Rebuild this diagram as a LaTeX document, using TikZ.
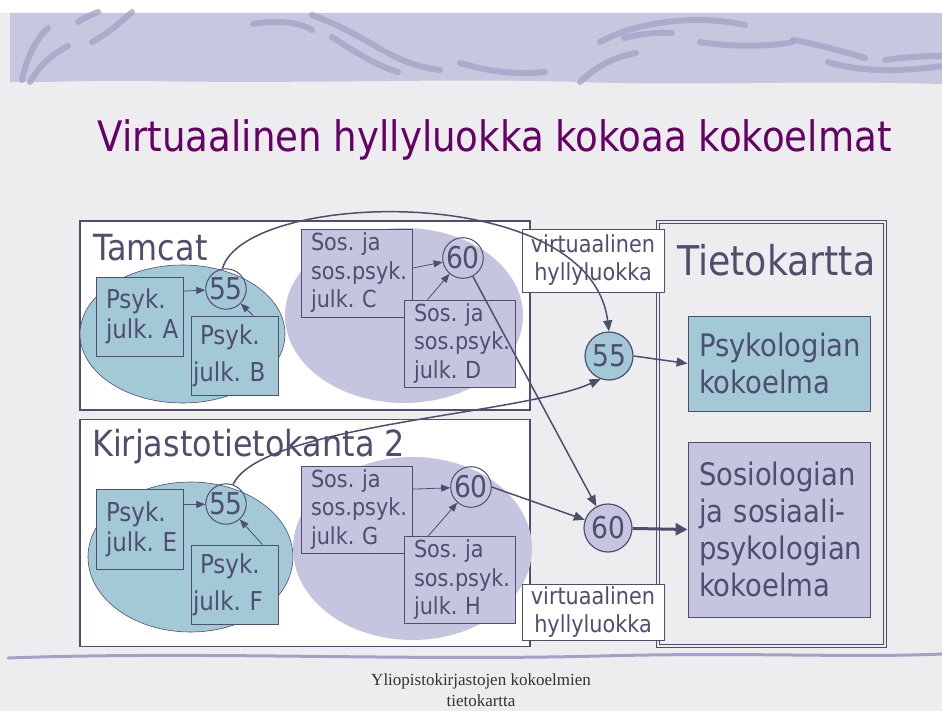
\documentclass[tikz,border=0pt]{standalone}
\usepackage{fontspec}
\setmainfont{DejaVu Sans}[FakeStretch=0.885]
\newfontfamily\footfont{Liberation Serif}
\usetikzlibrary{positioning,arrows.meta,shapes.geometric}
\definecolor{slate}{HTML}{4E4E6E}
\definecolor{plum}{HTML}{660066}
\definecolor{tealfill}{HTML}{A3C9D7}
\definecolor{lilac}{HTML}{C5C5DF}
\definecolor{banner}{HTML}{C7C7DF}
\definecolor{wave}{HTML}{A2A2C6}
\definecolor{paper}{HTML}{EDEDF0}
\definecolor{foot}{HTML}{333333}
\frenchspacing

\begin{document}
\begin{tikzpicture}[
    x=1pt, y=-1pt,
    frame/.style={draw=slate,line width=1.6pt,fill=white,minimum width=450pt,inner sep=0pt},
    blob/.style={ellipse,inner sep=0pt},
    psykbox/.style={draw=slate,line width=0.8pt,fill=tealfill,text=slate,font=\fontsize{26}{30}\selectfont,
      minimum height=79pt,inner xsep=10pt,text width=67pt,align=left},
    sosbox/.style={draw=slate,line width=0.8pt,fill=lilac,text=slate,font=\fontsize{23.5}{28.5}\selectfont,
      minimum height=88pt,inner xsep=10pt,text width=91pt,align=left},
    num/.style={circle,draw=slate,line width=1pt,text=slate,inner sep=0pt,minimum size=39pt,
      font=\fontsize{30}{30}\selectfont},
    bignum/.style={num,minimum size=48pt,line width=1.2pt},
    shelf/.style={draw=slate,line width=0.8pt,fill=white,text=slate,font=\fontsize{23.5}{28}\selectfont,
      minimum width=142pt,align=center,inner sep=2pt},
    coll/.style={draw=slate,line width=0.8pt,text=slate,font=\fontsize{31}{37}\selectfont,
      inner xsep=11pt,text width=160pt,align=left},
    swoosh/.style={draw=wave,line width=6pt,line cap=round,opacity=0.75},
    arr/.style={draw=slate,line width=0.8pt,-{Triangle[length=9pt,width=7pt]}},
    link/.style={draw=slate,line width=1.5pt,-{Triangle[length=11pt,width=9pt]}}]
  \useasboundingbox (0,0) rectangle (942,711);

  % slide background
  \fill[paper] (0,0) rectangle (942,711);
  \fill[white] (0,0) rectangle (942,13);
  \fill[banner] (10,13) -- (942,13) -- (942,84) .. controls (800,80) and (700,86) .. (580,82)
    .. controls (450,78) and (300,84) .. (150,81) .. controls (80,80) and (40,83) .. (10,82) -- cycle;
  \draw[swoosh] (22,80) .. controls (26,60) and (35,40) .. (48,28);
  \draw[swoosh] (30,82) .. controls (38,68) and (50,55) .. (68,46);
  \draw[swoosh] (92,42) .. controls (105,35) and (118,25) .. (132,12);
  \draw[swoosh] (78,22) .. controls (84,18) and (90,15) .. (98,12);
  \draw[swoosh] (253,24) .. controls (275,20) and (300,22) .. (312,30);
  \draw[swoosh] (312,15) .. controls (340,25) and (365,40) .. (382,50);
  \draw[swoosh] (332,37) .. controls (355,52) and (375,65) .. (398,72);
  \draw[swoosh] (386,52) .. controls (400,60) and (420,68) .. (440,70);
  \draw[swoosh] (460,63) .. controls (490,72) and (520,75) .. (545,72);
  \draw[swoosh] (580,82) .. controls (595,68) and (610,58) .. (636,53);
  \draw[swoosh] (600,42) .. controls (640,20) and (700,15) .. (745,25);
  \draw[swoosh] (624,38) .. controls (640,34) and (655,32) .. (672,33);
  \draw[swoosh] (700,42) .. controls (730,47) and (770,47) .. (793,42);
  \draw[swoosh] (793,40) .. controls (820,45) and (845,52) .. (865,58);
  \draw[swoosh] (828,62) .. controls (860,72) and (900,72) .. (942,66);
  \draw[swoosh] (885,60) .. controls (905,57) and (925,56) .. (942,56);
  \draw[wave,line width=3pt,line cap=round] (8,658) .. controls (200,651) and (400,661) .. (600,656)
    .. controls (750,652) and (850,658) .. (942,654);

  \node[anchor=base,font=\fontsize{42}{42}\selectfont,text=plum,inner sep=0pt] (title)
    at (494.5,152) {Virtuaalinen hyllyluokka kokoaa kokoelmat};

  % lahdetietokannat
  \node[frame,minimum height=189pt] (tamcat) at (305,315.5) {};
  \node[frame,minimum height=227pt,below=8pt of tamcat] (kirjasto) {};
  \node[anchor=base west,inner sep=0pt,text=slate,font=\fontsize{36}{36}\selectfont] (tamcatlbl)
    at (93,261) {Tamcat};
  \node[anchor=base west,inner sep=0pt,text=slate,font=\fontsize{36}{36}\selectfont] (kirjastolbl)
    at (92,456) {Kirjastotietokanta 2};

  \node[blob,fill=tealfill,draw=slate,line width=0.6pt,minimum width=205pt,minimum height=138pt] (psykA)
    at (182.5,334) {};
  \node[blob,fill=lilac,minimum width=238pt,minimum height=175pt] (sosA) at (404,315.5) {};
  \node[blob,fill=tealfill,draw=slate,line width=0.6pt,minimum width=205pt,minimum height=150pt] (psykB)
    at (190.5,557) {};
  \node[blob,fill=lilac,minimum width=239pt,minimum height=183pt] (sosB) at (412.5,548.5) {};

  \node[psykbox] (boxA) at (139.5,316.5) {Psyk.\\julk.~A};
  \node[psykbox,inner xsep=2pt,text width=83pt,font=\fontsize{26}{37}\selectfont] (boxB)
    at (234.5,355.5) {\hspace*{7pt}Psyk.\\julk.~B};
  \node[sosbox] (boxC) at (356.5,273) {Sos.~ja\\sos.psyk.\\julk.~C};
  \node[sosbox,minimum height=87pt] (boxD) at (459.5,343.5) {Sos.~ja\\sos.psyk.\\julk.~D};
  \node[num] (n55a) at (226,289) {55};
  \node[num] (n60a) at (463,258) {60};

  \node[psykbox,minimum height=80pt] (boxE) at (139.5,529) {Psyk.\\julk.~E};
  \node[psykbox,inner xsep=2pt,text width=83pt,font=\fontsize{26}{37}\selectfont] (boxF)
    at (234.5,584.5) {\hspace*{7pt}Psyk.\\julk.~F};
  \node[sosbox,minimum height=87pt] (boxG) at (356.5,509.5) {Sos.~ja\\sos.psyk.\\julk.~G};
  \node[sosbox,minimum height=86pt] (boxH) at (459.5,580) {Sos.~ja\\sos.psyk.\\julk.~H};
  \node[num] (n55b) at (226,504) {55};
  \node[num] (n60b) at (471,487) {60};

  \draw[arr] (boxA.30) -- (n55a);
  \draw[arr] (boxB.65) -- (n55a);
  \draw[arr] (boxC.5) -- (n60a);
  \draw[arr] (boxD.126) -- (n60a);
  \draw[arr] (boxE.29) -- (n55b);
  \draw[arr] (boxF.55) -- (n55b);
  \draw[arr] (boxG.20) -- (n60b);
  \draw[arr] (boxH.126) -- (n60b);

  % tietokartta
  \node[draw=slate,line width=0.8pt,double=paper,double distance=2pt,minimum width=227pt,
    minimum height=424pt] (kartta) at (771.5,434) {};
  \node[anchor=base west,inner sep=0pt,text=slate,font=\fontsize{41}{41}\selectfont] (kartalbl)
    at (677,276) {Tietokartta};
  \node[coll,fill=tealfill,minimum height=95pt] (psykcoll) at (779,363.5) {Psykologian\\kokoelma};
  \node[coll,fill=lilac,minimum height=175pt] (soscoll) at (779,529.5)
    {Sosiologian\\ja sosiaali-\\psykologian\\kokoelma};

  \node[shelf,minimum height=63pt] (shelfA) at (593,260.5) {virtuaalinen\\hyllyluokka};
  \node[shelf,minimum height=56pt] (shelfB) at (593,612) {virtuaalinen\\hyllyluokka};
  \node[bignum,fill=tealfill] (n55r) at (609,356) {55};
  \node[bignum,fill=lilac] (n60r) at (608,528) {60};

  \draw[link] (n55a.100) .. controls (245,190) and (590,180) .. (n55r.north);
  \draw[link] (n55b.70) .. controls (260,425) and (520,415) .. (n55r.250);
  \draw[link] (n60a) -- (n60r);
  \draw[link] (n60b.east) -- (n60r);
  \draw[link] (n55r.east) -- (psykcoll.west);
  \draw[draw=slate,line width=3pt,-{Triangle[length=12pt,width=12pt]}] (n60r) -- (soscoll.west);

  \node[font=\footfont\fontsize{17}{21}\selectfont,text=foot,align=center] (footer)
    at (481,690) {Yliopistokirjastojen kokoelmien\\tietokartta};
\end{tikzpicture}
\end{document}
